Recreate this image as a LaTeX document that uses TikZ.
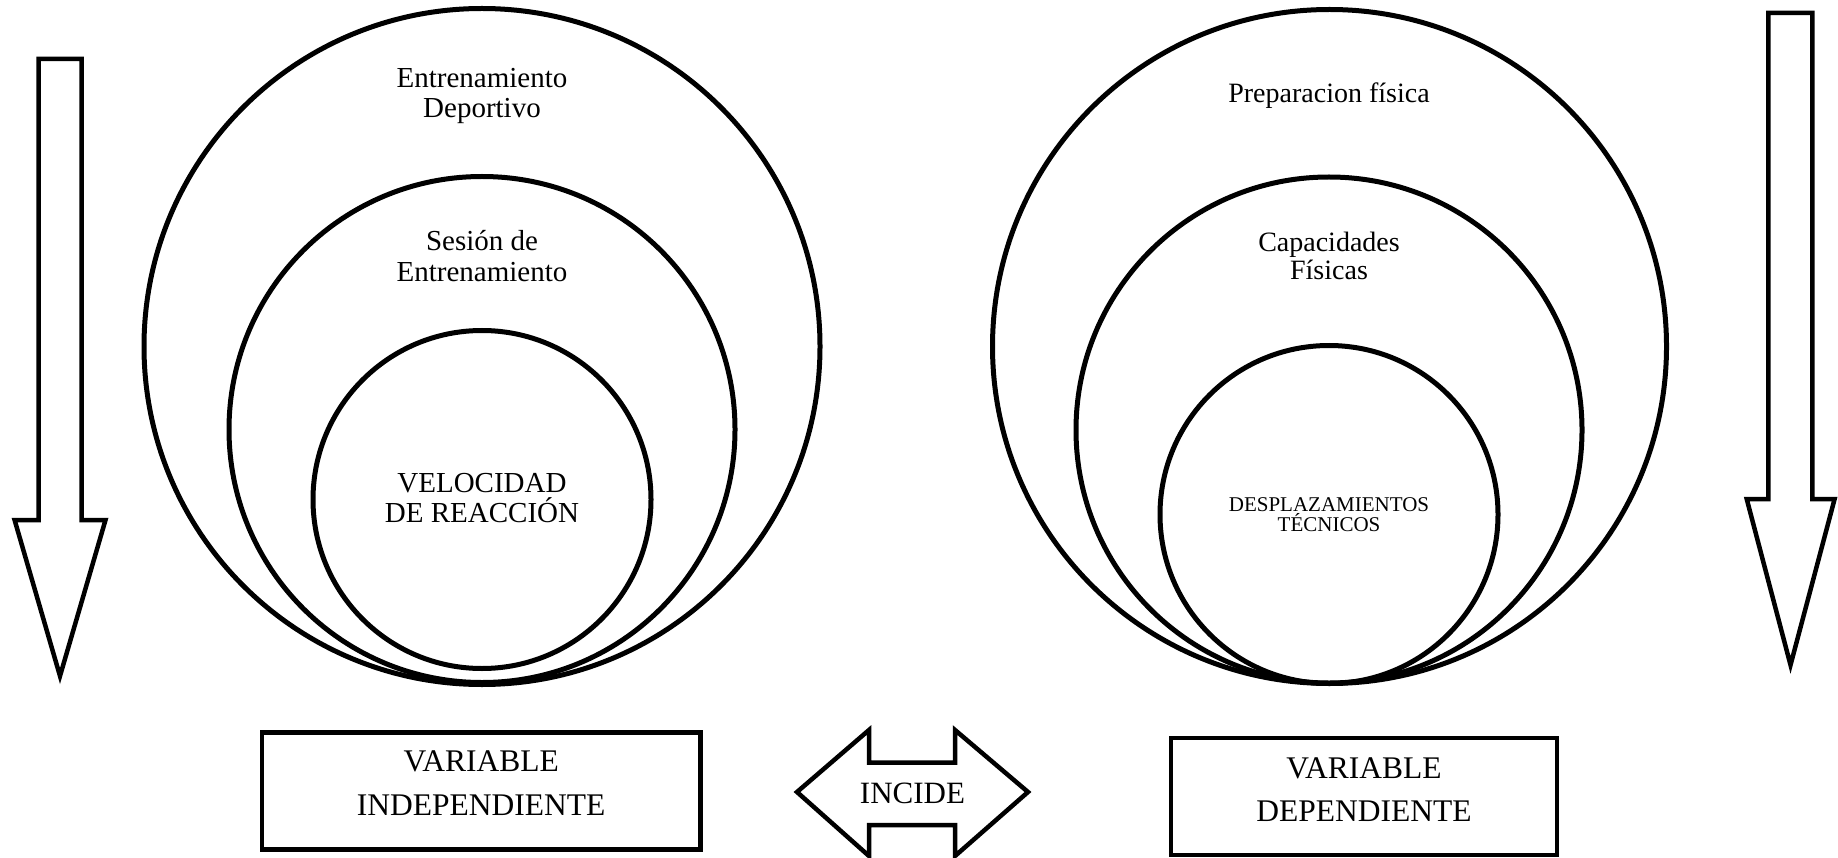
\documentclass[tikz,border=0pt]{standalone}
\usepackage{fontspec}
\setmainfont{Liberation Serif}
\begin{document}
\begin{tikzpicture}[x=1pt,y=-1pt,
  ring/.style={circle,draw,line width=5pt,inner sep=0pt},
  outline/.style={draw,line width=4.5pt,line join=miter},
  lbl/.style={anchor=base,inner sep=0pt,font=\rmfamily\fontsize{29}{32}\selectfont},
  small/.style={anchor=base,inner sep=0pt,font=\rmfamily\fontsize{21}{24}\selectfont},
  boxlbl/.style={anchor=base,inner sep=0pt,font=\rmfamily\fontsize{31.5}{36}\selectfont}]
\useasboundingbox (0,0) rectangle (1838,858);
% left circles
\node[ring,minimum size=676pt] (lo) at (482,346.5) {};
\node[ring,minimum size=506pt] (lm) at (482,429.5) {};
\node[ring,minimum size=338pt] (li) at (482,499.5) {};
% right circles
\node[ring,minimum size=674pt] (ro) at (1329.5,346.5) {};
\node[ring,minimum size=506pt] (rm) at (1329,430) {};
\node[ring,minimum size=338pt] (ri) at (1329,514.5) {};
% left texts
\node[lbl] (t1a) at (482,87.6) {Entrenamiento};
\node[lbl] (t1b) at (482,117.7) {Deportivo};
\node[lbl] (t2a) at (482,250.7) {Sesión de};
\node[lbl] (t2b) at (482,281.9) {Entrenamiento};
\node[lbl] (t3a) at (482,492.6) {VELOCIDAD};
\node[lbl] (t3b) at (482,522.7) {DE REACCIÓN};
% right texts
\node[lbl,font=\rmfamily\fontsize{28}{32}\selectfont] (t4) at (1329,102.9) {Preparacion física};
\node[lbl,font=\rmfamily\fontsize{28}{32}\selectfont] (t5a) at (1329,251.8) {Capacidades};
\node[lbl,font=\rmfamily\fontsize{28}{32}\selectfont] (t5b) at (1329,279.5) {Físicas};
\node[small] (t6a) at (1329,511.7) {DESPLAZAMIENTOS};
\node[small] (t6b) at (1329,531.7) {TÉCNICOS};
% left down arrow
\draw[outline] (38.7,59) -- (81.5,59) -- (81.5,520) -- (105.5,520) -- (60,676)
  -- (14.6,520) -- (38.7,520) -- cycle;
% right down arrow
\draw[outline] (1768.3,13) -- (1812.3,13) -- (1812.3,499) -- (1834.6,499) -- (1790.5,665)
  -- (1746.7,499) -- (1768.3,499) -- cycle;
% boxes
\draw[outline] (262,732.3) rectangle (700.5,849.5);
\node[boxlbl] (v1a) at (481.2,771.7) {VARIABLE};
\node[boxlbl] (v1b) at (481.2,815.5) {INDEPENDIENTE};
\draw[outline] (1171,737.8) rectangle (1556.8,855);
\node[boxlbl] (v2a) at (1363.9,778.3) {VARIABLE};
\node[boxlbl] (v2b) at (1363.9,821) {DEPENDIENTE};
% double arrow
\draw[outline] (797,792) -- (869,730) -- (869,762.7) -- (955,762.7) -- (955,730) -- (1028,792)
  -- (955,856) -- (955,825) -- (869,825) -- (869,856) -- cycle;
\node[anchor=base,inner sep=0pt,font=\rmfamily\fontsize{31}{36}\selectfont] (inc) at (912.5,803.3) {INCIDE};
\end{tikzpicture}
\end{document}
